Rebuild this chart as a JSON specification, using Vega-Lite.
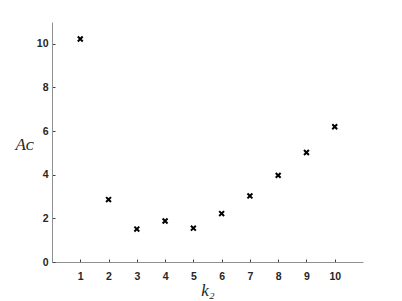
{
  "$schema": "https://vega.github.io/schema/vega-lite/v6.json",
  "width": 311,
  "height": 240,
  "autosize": {"type": "none"},
  "padding": {"left": 52, "top": 22, "right": 39, "bottom": 39},
  "background": "white",
  "config": {"view": {"stroke": null}},
  "data": {"values": [
    {"k2": 1, "Ac": 10.22},
    {"k2": 2, "Ac": 2.86},
    {"k2": 3, "Ac": 1.51},
    {"k2": 4, "Ac": 1.88},
    {"k2": 5, "Ac": 1.55},
    {"k2": 6, "Ac": 2.22},
    {"k2": 7, "Ac": 3.03},
    {"k2": 8, "Ac": 3.97},
    {"k2": 9, "Ac": 5.02},
    {"k2": 10, "Ac": 6.2}
  ]},
  "mark": {"type": "point", "shape": "M-1,-1L1,1M-1,1L1,-1", "size": 24, "stroke": "black", "strokeWidth": 2, "filled": false, "opacity": 1},
  "encoding": {
    "x": {"field": "k2", "type": "quantitative",
      "scale": {"domain": [0, 11], "nice": false, "zero": false},
      "axis": {"values": [1,2,3,4,5,6,7,8,9,10], "grid": false, "title": "k₂",
        "titleFont": "Liberation Serif", "titleFontStyle": "italic", "titleFontWeight": "normal", "titleFontSize": 17, "titleColor": "#262626", "titlePadding": 1,
        "labelFont": "Liberation Sans", "labelFontWeight": "bold", "labelFontSize": 10.5, "labelColor": "#262626", "labelPadding": 12,
        "domainColor": "#909090", "tickColor": "#404040", "tickSize": -3, "labelFlush": false}},
    "y": {"field": "Ac", "type": "quantitative",
      "scale": {"domain": [0, 11], "nice": false},
      "axis": {"values": [0,2,4,6,8,10], "grid": false, "title": "Aᴄ",
        "titleFont": "Liberation Serif", "titleFontStyle": "italic", "titleFontWeight": "normal", "titleFontSize": 17, "titleColor": "#262626",
        "titleAngle": 0, "titleX": -28, "titleY": 122, "titleAlign": "center", "titleBaseline": "middle",
        "labelFont": "Liberation Sans", "labelFontWeight": "bold", "labelFontSize": 10.5, "labelColor": "#262626", "labelPadding": 7,
        "domainColor": "#909090", "tickColor": "#404040", "tickSize": -3, "labelFlush": false}}
  }
}
